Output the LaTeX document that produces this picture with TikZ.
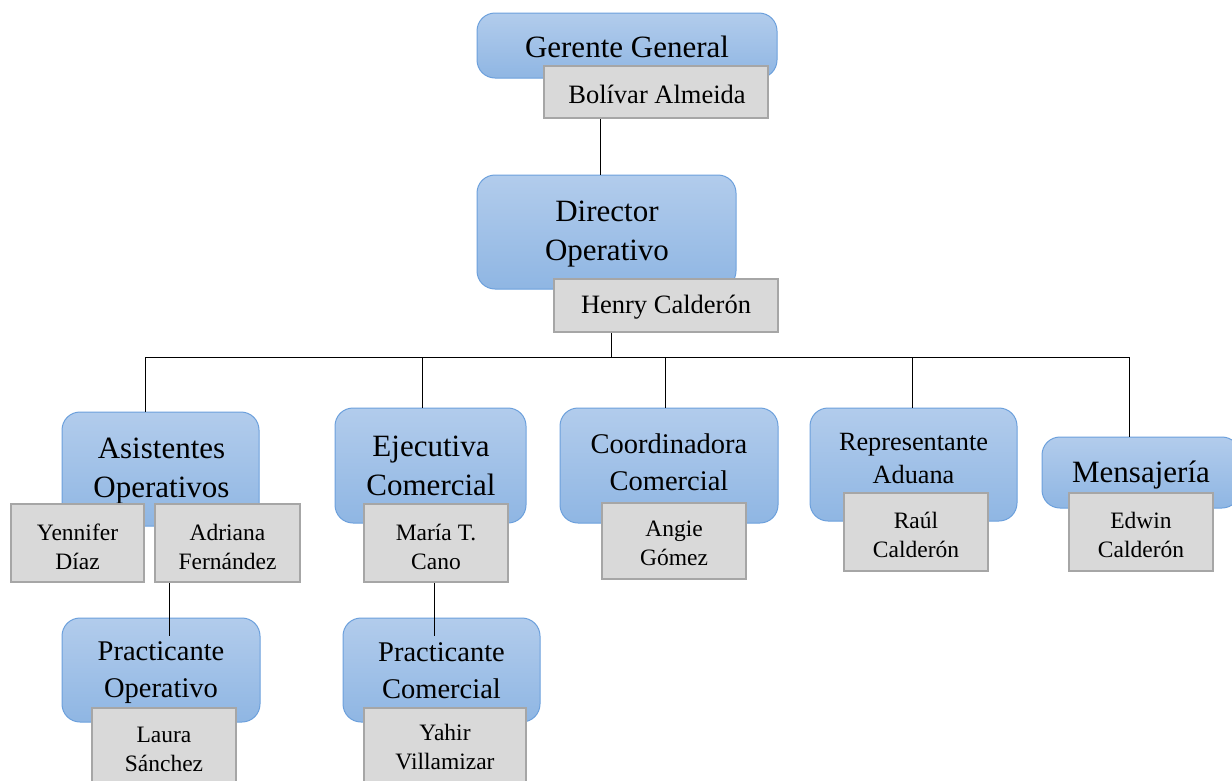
\documentclass[tikz,border=0pt]{standalone}
\usepackage{fontspec}
\setmainfont{Liberation Serif}
\usepackage{tikz}

\definecolor{boxtop}{RGB}{178,204,236}
\definecolor{boxbot}{RGB}{143,182,227}
\definecolor{boxline}{RGB}{108,160,220}
\definecolor{namefill}{RGB}{217,217,217}
\definecolor{nameline}{RGB}{166,166,166}

\begin{document}
\begin{tikzpicture}[x=1pt,y=-1pt,
    role/.style={draw=boxline,line width=1pt,rounded corners=18pt,top color=boxtop,bottom color=boxbot,inner sep=0pt},
    person/.style={draw=nameline,line width=2.5pt,fill=namefill,inner sep=0pt},
    rolebig/.style={align=center,inner sep=0pt,font=\fontsize{31}{39}\selectfont},
    rolemid/.style={align=center,inner sep=0pt,font=\fontsize{28.5}{37}\selectfont},
    rolesmall/.style={align=center,inner sep=0pt,font=\fontsize{26.3}{33}\selectfont},
    whoone/.style={align=center,inner sep=0pt,font=\fontsize{26.5}{30}\selectfont},
    whotwo/.style={align=center,inner sep=0pt,font=\fontsize{23.5}{29}\selectfont}]
  \useasboundingbox (0,0) rectangle (1232,780);
  \clip (0,0) rectangle (1232,780);

  % top
  \node (gerente) at (627,45.5) [role,minimum width=300,minimum height=65] {};
  \node (gerenteT) at (627,47) [rolebig] {Gerente General};
  \node (bolivar) at (656,92) [person,minimum width=224,minimum height=52] {};
  \node (bolivarT) at (657,94) [whoone] {Bolívar Almeida};

  \node (director) at (606.5,232) [role,minimum width=259,minimum height=114] {};
  \node (directorT) at (607,234) [rolebig] {Director\\Operativo};
  \node (henry) at (666,305.5) [person,minimum width=224,minimum height=53] {};
  \node (henryT) at (666,307) [whoone] {Henry Calderón};

  % second row
  \node (asistentes) at (160.5,469) [role,minimum width=197,minimum height=114] {};
  \node (asistentesT) at (161.5,471.5) [rolebig] {Asistentes\\Operativos};
  \node (yennifer) at (77.5,543) [person,minimum width=133,minimum height=78] {};
  \node (yenniferT) at (77.5,546.5) [whotwo] {Yennifer\\Díaz};
  \node (adriana) at (227.5,543) [person,minimum width=145,minimum height=78] {};
  \node (adrianaT) at (227.5,546.5) [whotwo] {Adriana\\Fernández};

  \node (ejecutiva) at (430.5,465.5) [role,minimum width=191,minimum height=115] {};
  \node (ejecutivaT) at (431,466) [rolebig] {Ejecutiva\\Comercial};
  \node (maria) at (436,543) [person,minimum width=144,minimum height=78] {};
  \node (mariaT) at (436,546.5) [whotwo] {María T.\\Cano};

  \node (coordinadora) at (669,465.5) [role,minimum width=218,minimum height=115] {};
  \node (coordinadoraT) at (669,462) [rolemid] {Coordinadora\\Comercial};
  \node (angie) at (674,541) [person,minimum width=144,minimum height=76] {};
  \node (angieT) at (674,543) [whotwo] {Angie\\Gómez};

  \node (representante) at (913.5,464.5) [role,minimum width=207,minimum height=113] {};
  \node (representanteT) at (913.5,458.5) [rolesmall] {Representante\\Aduana};
  \node (raul) at (916,532) [person,minimum width=144,minimum height=78] {};
  \node (raulT) at (916,535) [whotwo] {Raúl\\Calderón};

  \node (mensajeria) at (1141,472.5) [role,minimum width=198,minimum height=71] {};
  \node (mensajeriaT) at (1141,475) [rolebig] {Mensajería};
  \node (edwin) at (1141,532) [person,minimum width=144,minimum height=78] {};
  \node (edwinT) at (1141,535) [whotwo] {Edwin\\Calderón};

  % third row
  \node (practop) at (161,670) [role,minimum width=198,minimum height=104] {};
  \node (practopT) at (161,672.5) [rolemid] {Practicante\\Operativo};
  \node (laura) at (164,754) [person,minimum width=144,minimum height=92] {};
  \node (lauraT) at (164,749.5) [whotwo] {Laura\\Sánchez};

  \node (practcom) at (441.5,670) [role,minimum width=197,minimum height=104] {};
  \node (practcomT) at (441.5,671) [rolemid] {Practicante\\Comercial};
  \node (yahir) at (445,754) [person,minimum width=162,minimum height=92] {};
  \node (yahirT) at (445,747.5) [whotwo] {Yahir\\Villamizar};

  % connectors
  \coordinate (g1) at (600,0);
  \draw[line width=1pt] (g1 |- bolivar.south) -- (g1 |- director.north);

  \coordinate (bus) at (611,357);
  \coordinate (b1) at (145,357);
  \coordinate (b2) at (422,357);
  \coordinate (b3) at (665,357);
  \coordinate (b4) at (912,357);
  \coordinate (b5) at (1129,357);
  \draw[line width=1pt] (bus |- henry.south) -- (bus) -- (b1) -- (b1 |- asistentes.north);
  \draw[line width=1pt] (bus) -- (b5) -- (b5 |- mensajeria.north);
  \draw[line width=1pt] (b2) -- (b2 |- ejecutiva.north);
  \draw[line width=1pt] (b3) -- (b3 |- coordinadora.north);
  \draw[line width=1pt] (b4) -- (b4 |- representante.north);

  \coordinate (p1) at (169,636);
  \coordinate (p2) at (434,636);
  \draw[line width=1pt] (p1 |- adriana.south) -- (p1);
  \draw[line width=1pt] (p2 |- maria.south) -- (p2);
\end{tikzpicture}
\end{document}
